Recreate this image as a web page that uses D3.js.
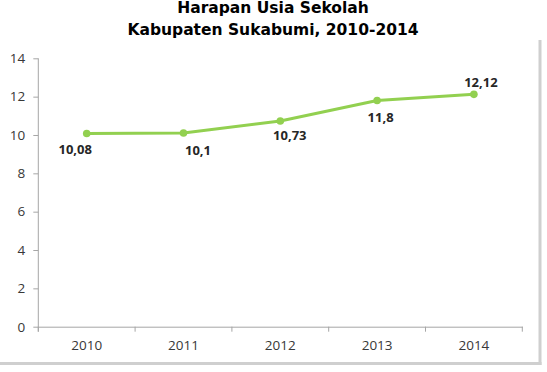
<!DOCTYPE html>
<html>
<head>
<meta charset="utf-8">
<script src="https://cdn.jsdelivr.net/npm/d3@7"></script>
<style>
  html, body { margin: 0; padding: 0; background: #ffffff; }
  svg { display: block; }
</style>
</head>
<body>
<svg id="chart" width="547" height="372"></svg>
<script>
// ---- data ----
const years = ["2010", "2011", "2012", "2013", "2014"];
const values = [10.08, 10.1, 10.73, 11.8, 12.12];
const valueLabels = ["10,08", "10,1", "10,73", "11,8", "12,12"];
const yTicks = [0, 2, 4, 6, 8, 10, 12, 14];
const titleLines = ["Harapan Usia Sekolah", "Kabupaten Sukabumi, 2010-2014"];

// ---- layout (label placement, not data) ----
const labelDx = [-11.5, 14.5, 9.5, 3.5, 7];
const labelDy = [16, 17, 14, 17, -12];

const W = 547, H = 372;
const margin = { left: 38.3, right: W - 522.3, top: 58.3, bottom: H - 326.7 };

const svg = d3.select("#chart");

// shadow frame lines
svg.append("rect").attr("x", 538.5).attr("y", 40).attr("width", 3).attr("height", 325)
  .attr("fill", "#cfcfcf");
svg.append("rect").attr("x", 0).attr("y", 362).attr("width", 541.5).attr("height", 3)
  .attr("fill", "#cfcfcf");

// title
svg.append("g").selectAll("text").data(titleLines).join("text")
  .attr("x", 273).attr("y", (d, i) => 13 + i * 22)
  .attr("text-anchor", "middle")
  .attr("font-family", "DejaVu Sans")
  .attr("font-weight", "bold")
  .attr("font-size", 15.5)
  .attr("fill", "#000")
  .text(d => d);

const x = d3.scaleBand().domain(years).range([margin.left, W - margin.right]);
const y = d3.scaleLinear().domain([0, 14]).range([H - margin.bottom, margin.top]);

// y axis
const yAxis = svg.append("g").attr("transform", `translate(${margin.left},0)`)
  .call(d3.axisLeft(y).tickValues(yTicks).tickSize(5).tickPadding(8).tickSizeOuter(0));
yAxis.select(".domain").attr("stroke", "#a6a6a6").attr("d", `M0,${y(14)}V${y(0) + 5}`);
yAxis.selectAll(".tick line").attr("stroke", "#a6a6a6");
yAxis.selectAll(".tick text")
  .attr("font-family", "Open Sans").attr("font-size", 13.5).attr("fill", "#383838");

// x axis
const xAxis = svg.append("g").attr("transform", `translate(0,${y(0)})`)
  .call(d3.axisBottom(x).tickSize(0).tickPadding(14));
xAxis.select(".domain").attr("stroke", "#a6a6a6");
xAxis.selectAll(".tick text")
  .attr("font-family", "Open Sans").attr("font-size", 13.5).attr("fill", "#383838");
// boundary tick marks between categories
const bounds = years.map(d => x(d)).concat([x(years[years.length - 1]) + x.bandwidth()]);
xAxis.selectAll("line.bound").data(bounds).join("line")
  .attr("class", "bound")
  .attr("x1", d => d).attr("x2", d => d).attr("y1", 0).attr("y2", 5)
  .attr("stroke", "#a6a6a6");

// line
const cx = (d, i) => x(years[i]) + x.bandwidth() / 2;
const line = d3.line().x(cx).y(d => y(d));
svg.append("path").datum(values)
  .attr("d", line)
  .attr("fill", "none")
  .attr("stroke", "#92d050")
  .attr("stroke-width", 3)
  .attr("stroke-linejoin", "round");

svg.append("g").selectAll("circle").data(values).join("circle")
  .attr("cx", cx).attr("cy", d => y(d)).attr("r", 3.8)
  .attr("fill", "#92d050");

// data labels
svg.append("g").selectAll("text").data(values).join("text")
  .attr("x", (d, i) => cx(d, i) + labelDx[i])
  .attr("y", (d, i) => y(d) + labelDy[i])
  .attr("dy", "0.35em")
  .attr("text-anchor", "middle")
  .attr("font-family", "Open Sans")
  .attr("font-weight", "bold")
  .attr("font-size", 13)
  .attr("fill", "#262626")
  .text((d, i) => valueLabels[i]);
</script>
</body>
</html>
